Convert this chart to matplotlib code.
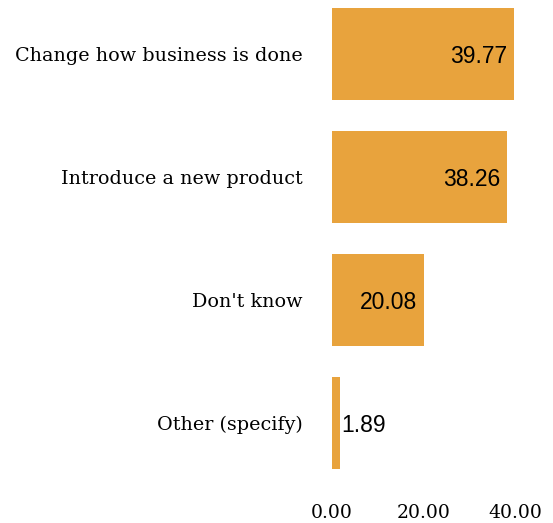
import matplotlib.pyplot as plt

categories = ['Change how business is done', 'Introduce a new product', "Don't know", 'Other (specify)']
values = [39.77, 38.26, 20.08, 1.89]
ticks = [0, 20, 40]

bar_color = '#E8A33D'

fig = plt.figure(figsize=(5.53, 5.23), dpi=100)
ax = fig.add_axes([331.5 / 553, 1 - 486 / 523, (515 - 331.5) / 553, 486 / 523])

pos = list(range(len(categories)))
ax.barh(pos, values, height=0.75, color=bar_color)

ax.set_xlim(0, 40)
ax.set_ylim(3.512, -0.439)

ax.set_yticks(pos)
ax.set_yticklabels(categories, family='DejaVu Serif', fontsize=13.8)
ax.set_xticks(ticks)
ax.set_xticklabels(['%.2f' % t for t in ticks], family='DejaVu Serif', fontsize=13.5)
ax.tick_params(axis='y', length=0, pad=21)
ax.tick_params(axis='x', length=0, pad=13)

for s in ax.spines.values():
    s.set_visible(False)

# value labels: inside the bar end, or just outside for short bars
for p, v in zip(pos, values):
    if v > 5:
        ax.annotate('%.2f' % v, (v, p), xytext=(-5, -2), textcoords='offset points',
                    ha='right', va='center', family='Liberation Sans', fontsize=16.5)
    else:
        ax.annotate('%.2f' % v, (v, p), xytext=(1, -2), textcoords='offset points',
                    ha='left', va='center', family='Liberation Sans', fontsize=16.5)

plt.savefig('out.png', dpi=100)
